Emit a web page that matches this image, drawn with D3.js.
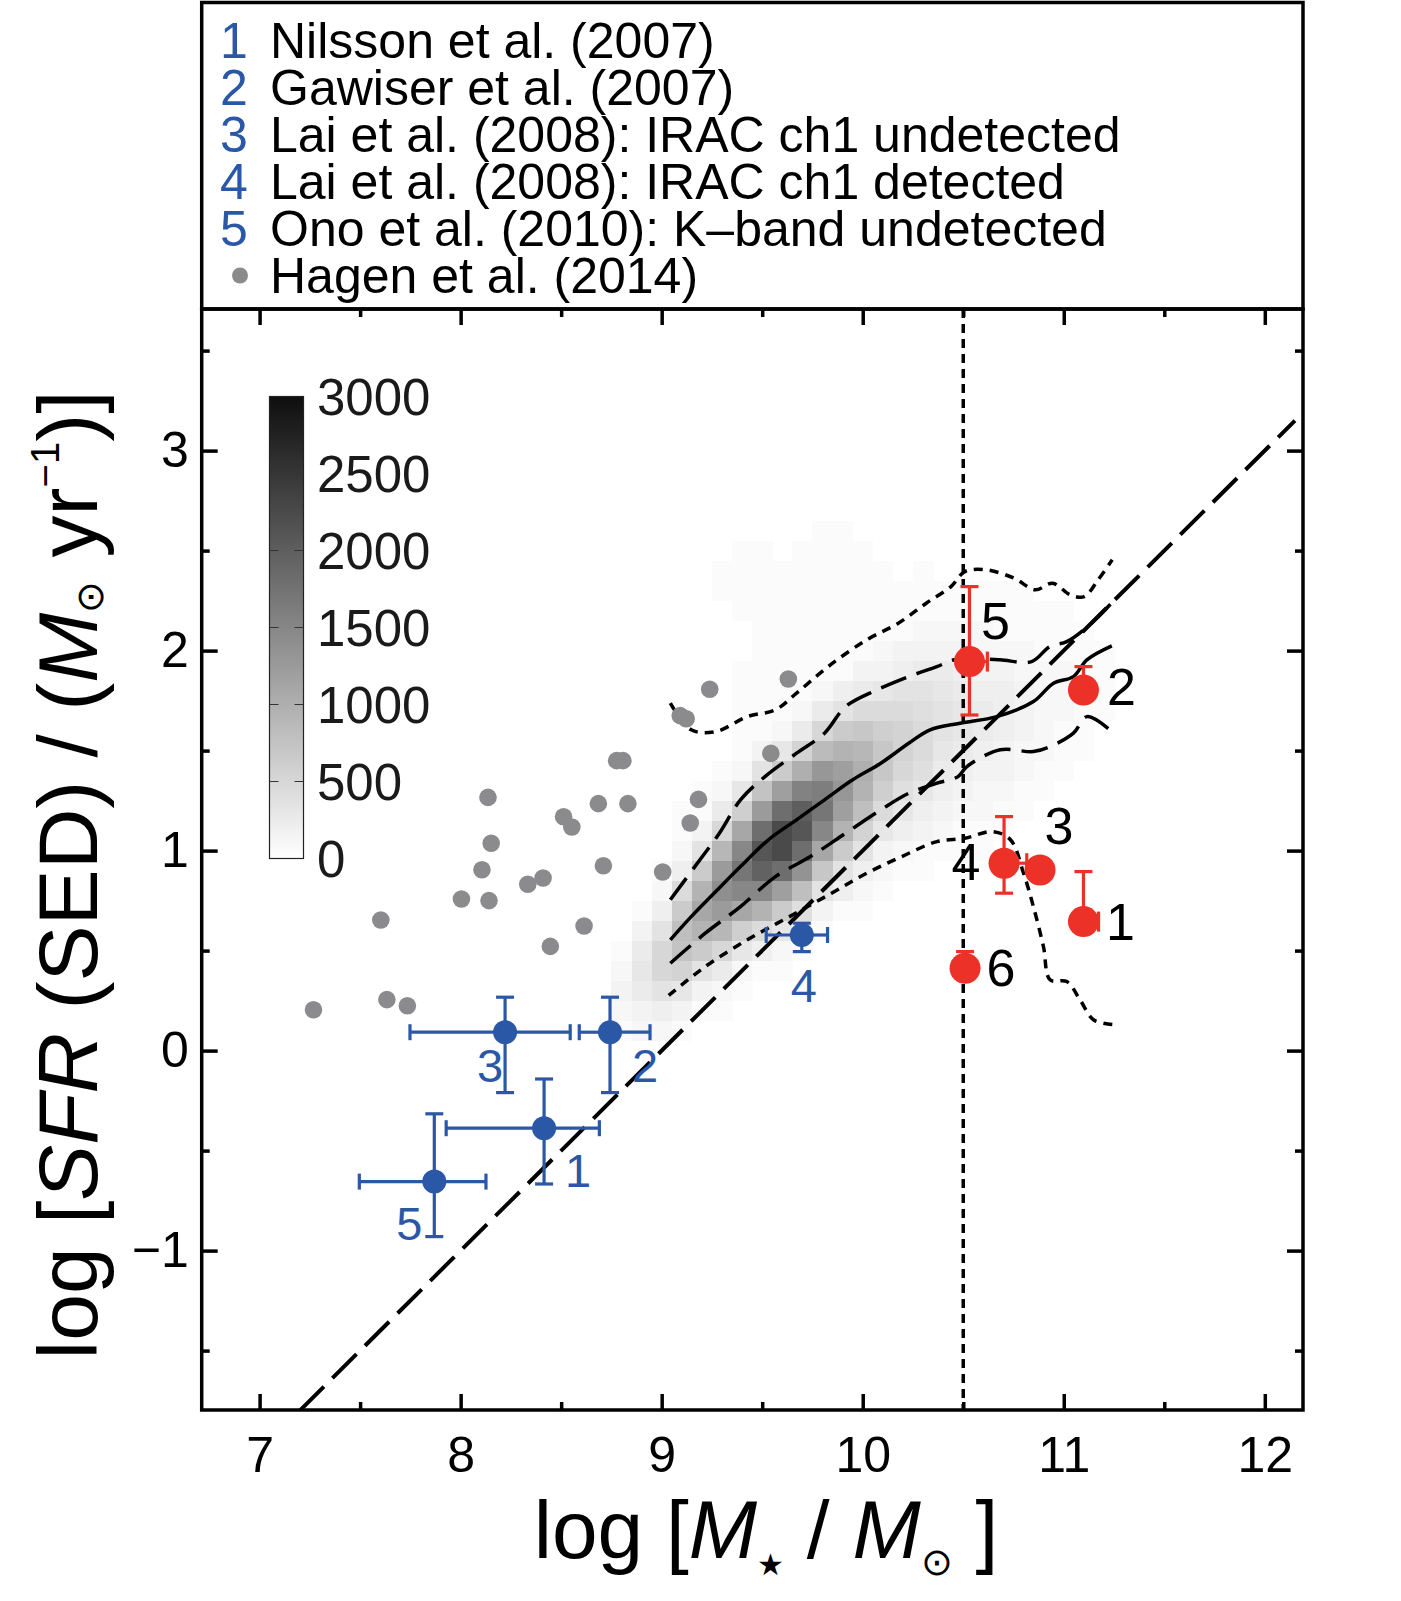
<!DOCTYPE html>
<html><head><meta charset="utf-8">
<script src="https://cdn.jsdelivr.net/npm/d3@7"></script>
<style>
body{margin:0;background:#fff}
svg{display:block}
text{font-family:"Liberation Sans",Arial,Helvetica,sans-serif;fill:#000}
</style>
</head><body>
<svg id="chart" width="1401" height="1601"></svg>
<script>
// ---------------- DATA ----------------
const xMajorTicks = [7, 8, 9, 10, 11, 12];
const xMinorTicks = [7.5, 8.5, 9.5, 10.5, 11.5];
const yMajorTicks = [-1, 0, 1, 2, 3];
const yMinorTicks = [-1.5, -0.5, 0.5, 1.5, 2.5, 3.5];
const colorbarTicks = [0, 500, 1000, 1500, 2000, 2500, 3000];

const legendNums = ["1", "2", "3", "4", "5"];
const legendNames = ["Nilsson et al. (2007)", "Gawiser et al. (2007)",
  "Lai et al. (2008): IRAC ch1 undetected", "Lai et al. (2008): IRAC ch1 detected",
  "Ono et al. (2010): K\u2013band undetected"];
const legendHagen = "Hagen et al. (2014)";

// Hagen et al. (2014) points
const hagenX = [7.268, 7.603, 7.633, 7.735, 8.004, 8.141, 8.106, 8.152, 8.136, 8.334, 8.410, 8.446, 8.512, 8.553,
  8.614, 8.685, 8.710, 8.776, 8.807, 8.832, 9.005, 9.142, 9.183, 9.092, 9.122, 9.239, 9.543, 9.630];
const hagenY = [0.204, 0.653, 0.255, 0.224, 0.758, 0.750, 0.904, 1.037, 1.266, 0.832, 0.863, 0.521, 1.169, 1.118,
  0.623, 1.235, 0.924, 1.450, 1.450, 1.235, 0.893, 1.138, 1.256, 1.675, 1.659, 1.807, 1.486, 1.858];

// LAE stacks (blue), ids 1..5
const blueIds = ["1", "2", "3", "4", "5"];
const blueX   = [8.415, 8.743, 8.221, 9.697, 7.869];
const blueY   = [-0.388, 0.092, 0.092, 0.578, -0.655];
const blueXLo = [7.928, 8.590, 7.748, 9.520, 7.496];
const blueXHi = [8.690, 8.942, 8.545, 9.825, 8.126];
const blueYLo = [-0.667, -0.210, -0.210, 0.495, -0.930];
const blueYHi = [-0.142, 0.267, 0.267, 0.637, -0.316];

// red points, ids 1..6
const redIds = ["1", "2", "3", "4", "5", "6"];
const redX   = [11.098, 11.098, 10.882, 10.703, 10.531, 10.509];
const redY   = [0.645, 1.803, 0.903, 0.937, 1.945, 0.412];
const redXHi = [11.173, null, null, 10.816, 10.620, null];
const redYLo = [null, null, null, 0.787, 1.678, null];
const redYHi = [0.895, 1.920, null, 1.170, 2.320, 0.495];

// 2D histogram (counts / 100); rows top (Y=2.6) to bottom (Y=0.1), columns X=8.8..11.2
const binX = [8.8, 8.9, 9.0, 9.1, 9.2, 9.3, 9.4, 9.5, 9.6, 9.7, 9.8, 9.9, 10.0, 10.1, 10.2, 10.3, 10.4,
  10.5, 10.6, 10.7, 10.8, 10.9, 11.0, 11.1, 11.2];
const binY = [2.6, 2.5, 2.4, 2.3, 2.2, 2.1, 2.0, 1.9, 1.8, 1.7, 1.6, 1.5, 1.4, 1.3, 1.2, 1.1, 1.0,
  0.9, 0.8, 0.7, 0.6, 0.5, 0.4, 0.3, 0.2, 0.1];
const densityRows = [
  [0,0,0,0,0,0,0,0,0,0,0.5,0.5],
  [0,0,0,0,0,0,0.5,0.5,0,0.5,0.5,0.5,0.5],
  [0,0,0,0,0,0.5,0.5,0.5,0.5,0.5,0.5,0.5,0.5,0.5,0,0.5],
  [0,0,0,0,0,0.5,0.5,0.5,0.5,0.5,0.5,0.5,0.5,0.5,0.5,0.5,0.5,0.5,0.5,0.5,0.5],
  [0,0,0,0,0,0,0.5,0.5,0.5,0.5,0.5,0.5,0.5,0.5,0.5,0.5,0.5,0.5,0.5,0.5,0.5,0.5,0.5],
  [0,0,0,0,0,0,0,0.5,0.5,0.5,0.5,0.5,0.5,0.5,0.5,1,1,1,1,0.5,0.5,0.5,0.5,0.5],
  [0,0,0,0,0,0,0,0.5,0.5,0.5,0.5,0.5,0.5,1,1.5,1.5,1.5,1.5,1,1,1,0.5,0.5,0.5,0.5],
  [0,0,0,0,0,0,0.5,0.5,0.5,0.5,0.5,0.5,1.5,1.5,2,2.5,2.5,2,1.5,1.5,1,1,1,0.5,0.5],
  [0,0,0,0,0,0,0.5,0.5,0.5,0.5,1,2,2.5,3,3.5,3.5,3,2.5,2,2,1.5,1,1,0.5,0.5],
  [0,0,0,0,0,0,0.5,0.5,0.5,1,2.5,3.5,4.5,4.5,4.5,4,3.5,3,2.5,2,1.5,1,1,0.5,0.5],
  [0,0,0,0,0,0,0.5,0.5,1,2.5,5,6.5,7,6,5.5,4.5,3.5,3,2.5,2,1.5,1,0.5,0.5],
  [0,0,0,0,0,0,0.5,1.5,3,5.5,8.5,9.5,9,7,5.5,4.5,3,2.5,2,1.5,1,1,0.5,0.5],
  [0,0,0,0,0,0.5,1,3.5,6.5,10,13,12,10,7,5,4,2.5,2,1.5,1.5,1,0.5,0.5],
  [0,0,0,0,0.5,1,3,7.5,12,15.5,16,13,9.5,6,4,3,2,1.5,1,1,0.5,0.5],
  [0,0,0,0.5,0.5,2.5,6,12.5,18,20,17,12,8,4.5,3,2,1.5,1,1,0.5,0.5],
  [0,0,0,0.5,1.5,5,11,18,22.5,21,15,9.5,5.5,3,2,1.5,1,0.5,0.5,0.5],
  [0,0,0,1,3.5,9,15,21,22.5,18,11,6.5,3.5,1.5,1,0.5,0.5,0.5,0.5],
  [0,0,0.5,2,6.5,12.5,17,19.5,18,13.5,7,3.5,2,1,0.5,0.5],
  [0,0,1,4.5,9.5,14,15,15,12,8,3.5,2,1,0.5],
  [0,0.5,2,6.5,11,12.5,11,9.5,6.5,4,1.5,0.5,0.5],
  [0,1.5,3.5,8,9.5,9,6,4.5,3,1.5,0.5],
  [0.5,2.5,5,7.5,6.5,5,3,2,1,0.5],
  [1,3,5,5.5,3.5,2.5,1,0.5,0.5],
  [1.5,2.5,3.5,3,1.5,1,0.5],
  [1,1.5,2,1.5,0.5,0.5],
  [0.5,1,1,0.5]
];

// curves over the histogram
const medianX = [9.043, 9.147, 9.269, 9.392, 9.531, 9.671, 9.810, 9.950, 10.090, 10.229, 10.335, 10.484, 10.667, 10.849, 10.949, 11.048, 11.115, 11.239];
const medianY = [0.554, 0.670, 0.795, 0.920, 1.054, 1.154, 1.254, 1.354, 1.437, 1.537, 1.604, 1.637, 1.670, 1.745, 1.837, 1.870, 1.954, 2.024];
const upperDashX = [9.043, 9.165, 9.287, 9.392, 9.514, 9.671, 9.810, 9.915, 10.072, 10.229, 10.369, 10.456, 10.550, 10.683, 10.840, 10.930, 11.015, 11.130, 11.240];
const upperDashY = [0.754, 0.920, 1.087, 1.254, 1.370, 1.487, 1.587, 1.720, 1.804, 1.870, 1.920, 1.954, 1.960, 1.954, 1.945, 2.020, 2.045, 2.130, 2.240];
const lowerDashX = [9.043, 9.217, 9.392, 9.566, 9.740, 9.915, 10.090, 10.229, 10.369, 10.474, 10.518, 10.684, 10.849, 10.932, 11.048, 11.115, 11.239];
const lowerDashY = [0.437, 0.587, 0.720, 0.870, 0.970, 1.087, 1.204, 1.287, 1.337, 1.370, 1.420, 1.504, 1.495, 1.520, 1.587, 1.670, 1.595];
const upperDotX = [9.043, 9.147, 9.269, 9.426, 9.566, 9.671, 9.828, 10.020, 10.177, 10.316, 10.439, 10.508, 10.613, 10.753, 10.858, 10.945, 11.032, 11.102, 11.171, 11.241];
const upperDotY = [1.737, 1.604, 1.595, 1.670, 1.704, 1.787, 1.920, 2.054, 2.137, 2.237, 2.320, 2.395, 2.404, 2.362, 2.304, 2.337, 2.279, 2.270, 2.354, 2.454];
const lowerDotX = [9.035, 9.217, 9.426, 9.636, 9.845, 10.020, 10.194, 10.369, 10.508, 10.648, 10.735, 10.800, 10.849, 10.899, 10.932, 11.015, 11.081, 11.148, 11.245];
const lowerDotY = [0.276, 0.420, 0.554, 0.670, 0.787, 0.887, 0.970, 1.045, 1.062, 1.095, 1.054, 0.887, 0.720, 0.520, 0.354, 0.345, 0.254, 0.154, 0.130];

// one-to-one-slope relation and mass cut
const diagX = [7.2, 12.15];
const diagY = [-1.8, 3.15];
const massCut = 10.5;

// ---------------- STYLE / LAYOUT ----------------
const W = 1401, H = 1601;
const L = 201.7, R = 1303, T = 309, B = 1410;
const BLUE = "#2b57a7", RED = "#ec3228", GREY = "#8b8b8e";
const FONT = "'Liberation Sans',Arial,Helvetica,sans-serif";
const svg = d3.select("#chart");
svg.append("rect").attr("width", W).attr("height", H).attr("fill", "#fff");

const x = d3.scaleLinear().domain([6.712, 12.19]).range([L, R]);
const y = d3.scaleLinear().domain([-1.797, 3.708]).range([B, T]);
const gray = d3.scaleLinear().domain([0, 3000]).range(["#ffffff", "#0e0e0e"]);

svg.append("defs").append("clipPath").attr("id", "clip")
  .append("rect").attr("x", L).attr("y", T).attr("width", R - L).attr("height", B - T);
const plot = svg.append("g").attr("clip-path", "url(#clip)");

// heatmap
const cells = [];
densityRows.forEach((row, i) => binX.forEach((bx, j) => {
  const v = (row[j] || 0) * 100;
  if (v > 0) cells.push({ x: bx, y: binY[i], v });
}));
plot.append("g").attr("shape-rendering", "crispEdges").selectAll("rect").data(cells).join("rect")
  .attr("x", d => x(d.x - 0.05)).attr("y", d => y(d.y + 0.05))
  .attr("width", d => x(d.x + 0.05) - x(d.x - 0.05) + 0.5)
  .attr("height", d => y(d.y - 0.05) - y(d.y + 0.05) + 0.5)
  .attr("fill", d => gray(d.v));

// lines
const line = d3.line().x(d => x(d[0])).y(d => y(d[1])).curve(d3.curveCatmullRom.alpha(0.5));
const zip = (a, b) => a.map((v, i) => [v, b[i]]);
function drawLine(xs, ys, dash, w) {
  plot.append("path").attr("d", line(zip(xs, ys))).attr("fill", "none").attr("stroke", "#000")
    .attr("stroke-width", w).attr("stroke-dasharray", dash);
}
plot.append("line").attr("x1", x(massCut)).attr("x2", x(massCut)).attr("y1", T).attr("y2", B)
  .attr("stroke", "#000").attr("stroke-width", 3.5).attr("stroke-dasharray", "9,6");
drawLine(upperDotX, upperDotY, "9,7", 3.5);
drawLine(lowerDotX, lowerDotY, "9,7", 3.5);
drawLine(upperDashX, upperDashY, "27,11", 3.5);
drawLine(lowerDashX, lowerDashY, "27,11", 3.5);
drawLine(medianX, medianY, null, 3.5);
plot.append("line").attr("x1", x(diagX[0])).attr("y1", y(diagY[0])).attr("x2", x(diagX[1])).attr("y2", y(diagY[1]))
  .attr("stroke", "#000").attr("stroke-width", 4).attr("stroke-dasharray", "34,12");

// Hagen points
plot.append("g").selectAll("circle").data(hagenX).join("circle")
  .attr("cx", d => x(d)).attr("cy", (d, i) => y(hagenY[i])).attr("r", 8.8).attr("fill", GREY);

// error bar helper
function errBar(g, color, x0, y0, x1, y1, capHalf, vertical) {
  g.append("line").attr("x1", x(x0)).attr("y1", y(y0)).attr("x2", x(x1)).attr("y2", y(y1))
    .attr("stroke", color).attr("stroke-width", 3.2);
  if (vertical) g.append("line").attr("x1", x(x1) - capHalf).attr("x2", x(x1) + capHalf)
    .attr("y1", y(y1)).attr("y2", y(y1)).attr("stroke", color).attr("stroke-width", 3.2);
  else g.append("line").attr("x1", x(x1)).attr("x2", x(x1))
    .attr("y1", y(y1) - capHalf).attr("y2", y(y1) + capHalf).attr("stroke", color).attr("stroke-width", 3.2);
}

// blue points
const blueDx = [34, 35, -15, 2, -25], blueDy = [42, 33, 33, 50, 41];
const gb = plot.append("g");
blueX.forEach((bx, i) => {
  errBar(gb, BLUE, bx, blueY[i], blueXLo[i], blueY[i], 8, false);
  errBar(gb, BLUE, bx, blueY[i], blueXHi[i], blueY[i], 8, false);
  errBar(gb, BLUE, bx, blueY[i], bx, blueYLo[i], 9, true);
  errBar(gb, BLUE, bx, blueY[i], bx, blueYHi[i], 9, true);
});
gb.selectAll("circle").data(blueX).join("circle")
  .attr("cx", d => x(d)).attr("cy", (d, i) => y(blueY[i])).attr("r", 12).attr("fill", BLUE);
gb.selectAll("text").data(blueIds).join("text")
  .attr("x", (d, i) => x(blueX[i]) + blueDx[i]).attr("y", (d, i) => y(blueY[i]) + blueDy[i])
  .attr("dy", "0.36em").attr("text-anchor", "middle").style("font-size", "47px").style("fill", BLUE)
  .text(d => d);

// red points
const redDx = [37, 38, 19, -38, 26, 36], redDy = [0, -4, -45, -2, -41, -1];
const gr = plot.append("g");
redX.forEach((rx, i) => {
  if (redXHi[i] != null) errBar(gr, RED, rx, redY[i], redXHi[i], redY[i], 10, false);
  if (redYLo[i] != null) errBar(gr, RED, rx, redY[i], rx, redYLo[i], 9, true);
  if (redYHi[i] != null) errBar(gr, RED, rx, redY[i], rx, redYHi[i], 9, true);
});
gr.selectAll("circle").data(redX).join("circle")
  .attr("cx", d => x(d)).attr("cy", (d, i) => y(redY[i])).attr("r", 15.5).attr("fill", RED);
gr.selectAll("text").data(redIds).join("text")
  .attr("x", (d, i) => x(redX[i]) + redDx[i]).attr("y", (d, i) => y(redY[i]) + redDy[i])
  .attr("dy", "0.36em").attr("text-anchor", "middle").style("font-size", "52px")
  .text(d => d);

// colorbar
const cbX = 269.5, cbW = 34;
const cb = d3.scaleLinear().domain([0, 3000]).range([858.5, 396.5]);
const grad = svg.select("defs").append("linearGradient").attr("id", "cbgrad")
  .attr("x1", 0).attr("y1", 1).attr("x2", 0).attr("y2", 0);
grad.append("stop").attr("offset", 0).attr("stop-color", gray(0));
grad.append("stop").attr("offset", 1).attr("stop-color", gray(3000));
svg.append("rect").attr("x", cbX).attr("y", cb(3000)).attr("width", cbW).attr("height", cb(0) - cb(3000))
  .attr("fill", "url(#cbgrad)").attr("stroke", "#222").attr("stroke-width", 1.2);
colorbarTicks.slice(1, -1).forEach(t => {
  svg.append("line").attr("x1", cbX).attr("x2", cbX + 9).attr("y1", cb(t)).attr("y2", cb(t)).attr("stroke", "#333").attr("stroke-width", 1);
  svg.append("line").attr("x1", cbX + cbW - 9).attr("x2", cbX + cbW).attr("y1", cb(t)).attr("y2", cb(t)).attr("stroke", "#333").attr("stroke-width", 1);
});
svg.append("g").selectAll("text").data(colorbarTicks).join("text")
  .attr("x", 317).attr("y", d => cb(d)).attr("dy", "0.36em").style("font-size", "51px").style("fill", "#1a1a1a")
  .text(d => d);

// axes
function styleAxis(g) {
  g.select(".domain").remove();
  g.selectAll(".tick line").attr("stroke", "#000").attr("stroke-width", 3.5);
  g.selectAll(".tick text").style("font-size", "50px").attr("fill", "#000").style("font-family", FONT);
}
svg.append("g").attr("transform", `translate(0,${B})`)
  .call(d3.axisBottom(x).tickValues(xMajorTicks).tickSize(-16).tickPadding(26).tickFormat(d3.format("d"))).call(styleAxis);
svg.append("g").attr("transform", `translate(0,${B})`)
  .call(d3.axisBottom(x).tickValues(xMinorTicks).tickSize(-8).tickFormat("")).call(styleAxis);
svg.append("g").attr("transform", `translate(0,${T})`)
  .call(d3.axisTop(x).tickValues(xMajorTicks).tickSize(-16).tickFormat("")).call(styleAxis);
svg.append("g").attr("transform", `translate(0,${T})`)
  .call(d3.axisTop(x).tickValues(xMinorTicks).tickSize(-8).tickFormat("")).call(styleAxis);
svg.append("g").attr("transform", `translate(${L},0)`)
  .call(d3.axisLeft(y).tickValues(yMajorTicks).tickSize(-16).tickPadding(13).tickFormat(d3.format("d"))).call(styleAxis);
svg.append("g").attr("transform", `translate(${L},0)`)
  .call(d3.axisLeft(y).tickValues(yMinorTicks).tickSize(-8).tickFormat("")).call(styleAxis);
svg.append("g").attr("transform", `translate(${R},0)`)
  .call(d3.axisRight(y).tickValues(yMajorTicks).tickSize(-16).tickFormat("")).call(styleAxis);
svg.append("g").attr("transform", `translate(${R},0)`)
  .call(d3.axisRight(y).tickValues(yMinorTicks).tickSize(-8).tickFormat("")).call(styleAxis);

// frames
svg.append("rect").attr("x", L).attr("y", T).attr("width", R - L).attr("height", B - T)
  .attr("fill", "none").attr("stroke", "#000").attr("stroke-width", 3.5);
svg.append("rect").attr("x", L).attr("y", 2.5).attr("width", R - L).attr("height", T - 2.5)
  .attr("fill", "none").attr("stroke", "#000").attr("stroke-width", 3.5);

// legend
const legY = [58, 105, 152, 199, 246];
const lg = svg.append("g").style("font-size", "50px");
legendNums.forEach((n, i) => {
  lg.append("text").attr("x", 220).attr("y", legY[i]).style("fill", BLUE).text(n);
  lg.append("text").attr("x", 270).attr("y", legY[i]).text(legendNames[i]);
});
lg.append("circle").attr("cx", 240).attr("cy", 275.5).attr("r", 8).attr("fill", GREY);
lg.append("text").attr("x", 270).attr("y", 293).text(legendHagen);

// x label
const xl = svg.append("text").attr("x", 766).attr("y", 1558).attr("text-anchor", "middle").style("font-size", "82px");
xl.append("tspan").text("log [");
xl.append("tspan").style("font-style", "italic").text("M");
xl.append("tspan").style("font-size", "30px").attr("dy", 17).text("\u2605");
xl.append("tspan").attr("dy", -17).text(" / ");
xl.append("tspan").style("font-style", "italic").text("M");
xl.append("tspan").style("font-size", "38px").attr("dy", 17).text("\u2299");
xl.append("tspan").attr("dy", -17).text(" ]");

// y label
const yl = svg.append("text").attr("transform", "translate(97,875) rotate(-90)").attr("text-anchor", "middle").style("font-size", "84px");
yl.append("tspan").text("log [");
yl.append("tspan").style("font-style", "italic").text("SFR");
yl.append("tspan").text(" (SED) / (");
yl.append("tspan").style("font-style", "italic").text("M");
yl.append("tspan").style("font-size", "38px").attr("dy", 6).text("\u2299");
yl.append("tspan").attr("dy", -6).text(" yr");
yl.append("tspan").style("font-size", "40px").attr("dy", -38).text("\u22121");
yl.append("tspan").attr("dy", 38).text(")]");
</script>
</body></html>
